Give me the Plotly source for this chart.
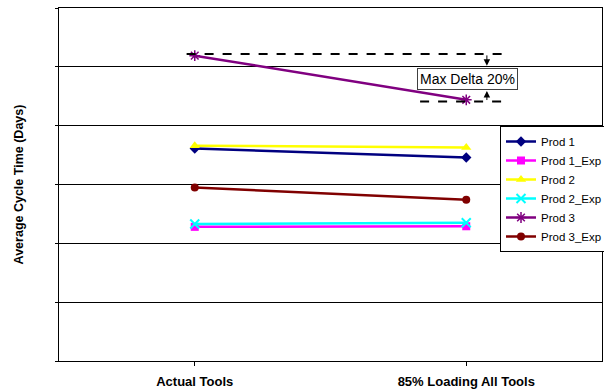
import plotly.graph_objects as go

# Scenarios on the horizontal axis
categories = ["Actual Tools", "85% Loading All Tools"]

# Average cycle time (days) per product, per scenario
prod_1 = [3.61, 3.46]
prod_1_exp = [2.28, 2.29]
prod_2 = [3.66, 3.63]
prod_2_exp = [2.33, 2.35]
prod_3 = [5.19, 4.44]
prod_3_exp = [2.95, 2.74]

series = [
    ("Prod 1", prod_1, "#000080", "diamond", 8, 0),
    ("Prod 1_Exp", prod_1_exp, "#FF00FF", "square", 8, 0),
    ("Prod 2", prod_2, "#FFFF00", "triangle-up", 9, 0),
    ("Prod 2_Exp", prod_2_exp, "#00FFFF", "x-thin-open", 9, 2),
    ("Prod 3", prod_3, "#800080", "asterisk-open", 9, 1.5),
    ("Prod 3_Exp", prod_3_exp, "#800000", "circle", 8, 0),
]

font_family = "Liberation Sans, Arial, sans-serif"
xpos = list(range(len(categories)))

fig = go.Figure()
for name, vals, color, symbol, size, mlw in series:
    fig.add_trace(go.Scatter(
        x=xpos, y=vals, name=name, mode="lines+markers",
        line=dict(color=color, width=2.5),
        marker=dict(symbol=symbol, size=size, color=color,
                    line=dict(color=color, width=mlw)),
    ))

# Dashed reference levels at the highest and lowest Prod 3 values
hi, lo = prod_3[0], prod_3[1]
fig.add_shape(type="line", x0=-0.03, x1=1.145, y0=hi + 0.03, y1=hi + 0.03,
              line=dict(color="black", width=2, dash="dash"))
fig.add_shape(type="line", x0=0.83, x1=1.14, y0=lo - 0.03, y1=lo - 0.03,
              line=dict(color="black", width=2, dash="dash"))

# Arrows pointing inward toward the delta label
arrow_x = 1.076
fig.add_annotation(x=arrow_x, y=hi - 0.17, ax=arrow_x, ay=hi + 0.03,
                   xref="x", yref="y", axref="x", ayref="y", text="",
                   showarrow=True, arrowhead=2, arrowsize=1.3, arrowwidth=1,
                   arrowcolor="black")
fig.add_annotation(x=arrow_x, y=lo + 0.15, ax=arrow_x, ay=lo - 0.03,
                   xref="x", yref="y", axref="x", ayref="y", text="",
                   showarrow=True, arrowhead=2, arrowsize=1.3, arrowwidth=1,
                   arrowcolor="black")

fig.add_annotation(x=1.005, y=(hi + lo) / 2 - 0.02, xref="x", yref="y",
                   text="Max Delta 20%", showarrow=False,
                   font=dict(family=font_family, size=14, color="black"),
                   bgcolor="white", bordercolor="#404040", borderwidth=1,
                   borderpad=2)

fig.update_layout(
    width=604, height=389,
    margin=dict(l=59, r=2, t=8, b=28, autoexpand=False),
    paper_bgcolor="white", plot_bgcolor="white",
    font=dict(family=font_family, size=11, color="black"),
    legend=dict(xref="container", yref="container",
                x=500 / 604, y=1 - 126 / 389, xanchor="left", yanchor="top",
                bgcolor="white", bordercolor="black", borderwidth=1,
                font=dict(size=11.5), tracegroupgap=0, itemwidth=30),
    showlegend=True,
)

fig.update_xaxes(
    range=[-0.5, 1.5], tickvals=xpos, ticktext=categories,
    tickfont=dict(family=font_family, size=13, color="black", weight="bold"),
    showgrid=False, zeroline=False, ticklabelstandoff=4,
    showline=True, linecolor="black", linewidth=1, mirror=True,
    ticks="outside", tickson="boundaries", ticklen=4, tickcolor="black",
)
fig.update_yaxes(
    range=[0, 6], dtick=1, showticklabels=False,
    showgrid=True, gridcolor="black", gridwidth=1, zeroline=False,
    showline=True, linecolor="black", linewidth=1, mirror=True,
    ticks="outside", ticklen=3, tickcolor="black",
    title=dict(text="Average Cycle Time (Days)", standoff=28,
               font=dict(family=font_family, size=12.5, color="black",
                         weight="bold")),
)

fig.write_html("out.html")
